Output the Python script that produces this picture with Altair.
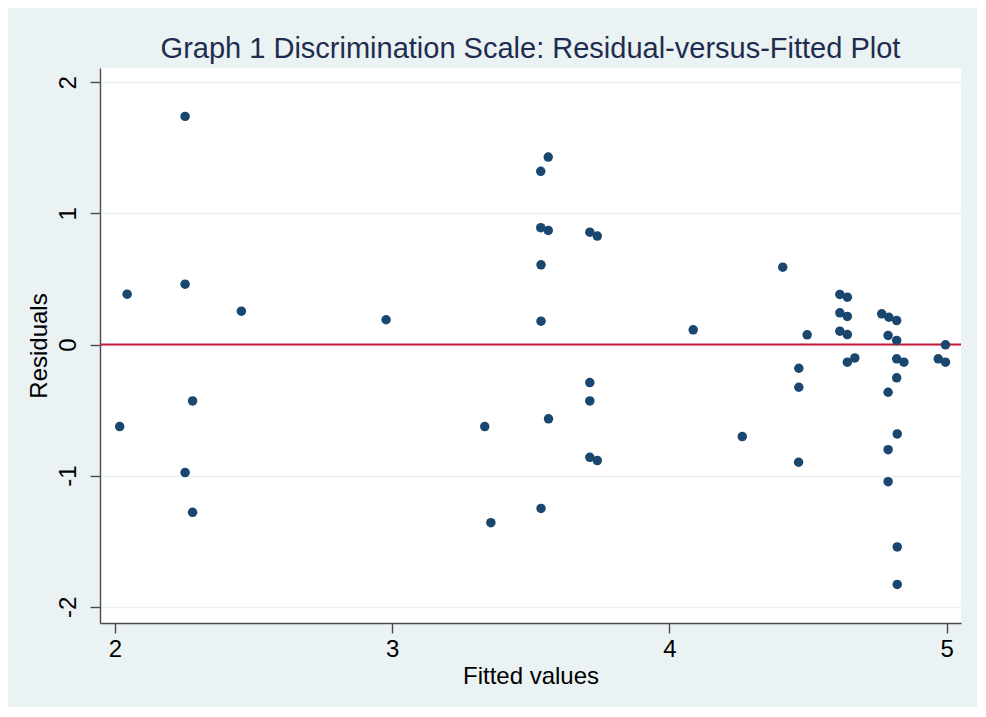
import altair as alt
import pandas as pd

fitted = [2.017, 2.044, 2.253, 2.253, 2.253, 2.280, 2.280, 2.456, 2.978,
          3.334, 3.356, 3.536, 3.563, 3.536, 3.563, 3.537, 3.537, 3.537, 3.564,
          3.713, 3.740, 3.713, 3.713, 3.713, 3.740,
          4.086, 4.263, 4.409, 4.467, 4.467, 4.466, 4.497,
          4.615, 4.642, 4.615, 4.642, 4.615, 4.642, 4.642, 4.669,
          4.766, 4.792, 4.820, 4.789, 4.820, 4.820, 4.846, 4.820, 4.789,
          4.822, 4.789, 4.789, 4.822, 4.822,
          4.996, 4.970, 4.996]
residuals = [-0.626, 0.384, 1.740, 0.460, -0.977, -0.430, -1.280, 0.254, 0.189,
             -0.626, -1.359, 1.321, 1.430, 0.891, 0.870, 0.608, 0.178, -1.250, -0.567,
             0.857, 0.827, -0.290, -0.430, -0.860, -0.885,
             0.112, -0.702, 0.590, -0.181, -0.326, -0.898, 0.074,
             0.382, 0.361, 0.242, 0.214, 0.102, 0.076, -0.135, -0.102,
             0.234, 0.208, 0.183, 0.069, 0.031, -0.109, -0.135, -0.254, -0.364,
             -0.682, -0.802, -1.046, -1.544, -1.830,
             -0.002, -0.109, -0.135]

x_ticks = [2, 3, 4, 5]
y_ticks = [-2, -1, 0, 1, 2]
ref_line = [0]

df = pd.DataFrame({"fitted": fitted, "residual": residuals})
ref = pd.DataFrame({"y": ref_line})

FONT = "Liberation Sans"

x_scale = alt.Scale(domain=[1.946, 5.052], nice=False, zero=False)
y_scale = alt.Scale(domain=[-2.124, 2.109], nice=False, zero=False)

x_axis = alt.Axis(values=x_ticks, title="Fitted values", grid=False,
                  labelExpr="toString(datum.value)",
                  labelFontSize=24, titleFontSize=24, labelFont=FONT, titleFont=FONT,
                  labelColor="black", titleColor="black", titleFontWeight="normal",
                  domainColor="#4a4a4a", tickColor="#4a4a4a", domainWidth=1.4, tickWidth=1.4,
                  tickSize=10, labelPadding=4, titlePadding=3, labelFlush=False)
y_axis = alt.Axis(values=y_ticks, title="Residuals", grid=True, gridColor="#eaf2f3", gridWidth=1.6,
                  labelExpr="toString(datum.value)",
                  labelFontSize=24, titleFontSize=24, labelFont=FONT, titleFont=FONT,
                  labelColor="black", titleColor="black", titleFontWeight="normal",
                  labelAngle=270, labelAlign="center", labelBaseline="bottom",
                  domainColor="#4a4a4a", tickColor="#4a4a4a", domainWidth=1.4, tickWidth=1.4,
                  tickSize=10, labelPadding=10, titlePadding=5, labelFlush=False)

points = alt.Chart(df).mark_circle(size=90, opacity=1, color="#1a476f").encode(
    x=alt.X("fitted:Q", scale=x_scale, axis=x_axis),
    y=alt.Y("residual:Q", scale=y_scale, axis=y_axis),
)

line = alt.Chart(ref).mark_rule(color="#c8193c", strokeWidth=2.2).encode(
    y=alt.Y("y:Q", scale=y_scale),
)

chart = alt.layer(line, points).properties(
    width=861,
    height=555,
    background="#eaf2f3",
    padding={"left": 92, "top": 60, "right": 16, "bottom": 84},
    autosize=alt.AutoSizeParams(type="none"),
    title=alt.TitleParams(
        "Graph 1 Discrimination Scale: Residual-versus-Fitted Plot",
        fontSize=29, font=FONT, color="#1e2d4f", fontWeight="normal",
        anchor="middle", offset=4,
    ),
).configure_view(stroke=None, fill="white")

chart.save("out.html", embed_options={"renderer": "svg", "actions": False})
